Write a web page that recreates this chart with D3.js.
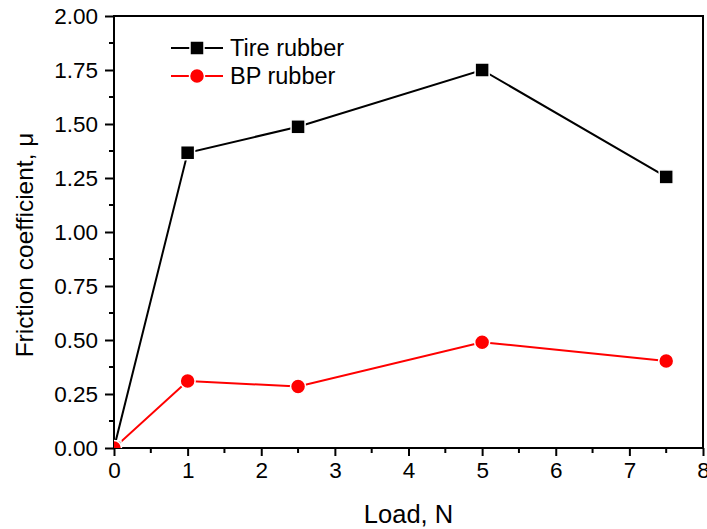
<!DOCTYPE html>
<html>
<head>
<meta charset="utf-8">
<script src="https://cdn.jsdelivr.net/npm/d3@7"></script>
<style>
  body { margin: 0; background: #fff; }
  text { font-family: Arial, "Liberation Sans", sans-serif; fill: #000; }
</style>
</head>
<body>
<svg width="707" height="529"></svg>
<script>
var loads = [0, 1, 2.5, 5, 7.5];
var tireRubber = [0, 1.367, 1.487, 1.75, 1.255];
var bpRubber = [0, 0.31, 0.285, 0.49, 0.403];
var xTicks = [0, 1, 2, 3, 4, 5, 6, 7, 8];
var yTicks = [0, 0.25, 0.5, 0.75, 1, 1.25, 1.5, 1.75, 2];

var svg = d3.select("svg"),
    margin = {top: 16, right: 4, bottom: 81, left: 114},
    width = +svg.attr("width") - margin.left - margin.right,
    height = +svg.attr("height") - margin.top - margin.bottom,
    g = svg.append("g").attr("transform", "translate(" + margin.left + "," + margin.top + ")");

var x = d3.scaleLinear().domain([0, 8]).range([0, width]);
var y = d3.scaleLinear().domain([0, 2]).range([height, 0]);

svg.append("defs").append("clipPath").attr("id", "clip")
  .append("rect").attr("width", width).attr("height", height);

// minor ticks
var xMinor = d3.range(0.5, 8, 1);
var yMinor = d3.range(0.125, 2, 0.25);

g.append("g")
    .attr("transform", "translate(0," + height + ")")
    .selectAll("line").data(xMinor).enter().append("line")
    .attr("x1", x).attr("x2", x).attr("y1", 0).attr("y2", 5)
    .attr("stroke", "#000").attr("stroke-width", 2);

g.append("g")
    .selectAll("line").data(yMinor).enter().append("line")
    .attr("y1", y).attr("y2", y).attr("x1", 0).attr("x2", -5)
    .attr("stroke", "#000").attr("stroke-width", 2);

var xAxis = g.append("g")
    .attr("transform", "translate(0," + height + ")")
    .call(d3.axisBottom(x).tickValues(xTicks).tickFormat(d3.format("d")).tickSize(8).tickPadding(6));

var yAxis = g.append("g")
    .call(d3.axisLeft(y).tickValues(yTicks).tickFormat(d3.format(".2f")).tickSize(9).tickPadding(7));

[xAxis, yAxis].forEach(function(a) {
  a.select(".domain").remove();
  a.selectAll("line").attr("stroke-width", 2);
  a.selectAll("text").style("font-size", "22.5px").style("font-family", "Arial, 'Liberation Sans', sans-serif");
});

// frame
g.append("rect")
    .attr("width", width).attr("height", height)
    .attr("fill", "none").attr("stroke", "#000").attr("stroke-width", 2);

var series = [
  {name: "Tire rubber", values: tireRubber, color: "#000", shape: "square"},
  {name: "BP rubber", values: bpRubber, color: "#ff0000", shape: "circle"}
];

var line = d3.line()
    .x(function(d) { return x(d[0]); })
    .y(function(d) { return y(d[1]); });

var plot = g.append("g").attr("clip-path", "url(#clip)");

function marker(sel, s) {
  if (s.shape === "square") {
    sel.append("rect")
      .attr("x", -7).attr("y", -7).attr("width", 14).attr("height", 14)
      .attr("fill", s.color).attr("stroke", "#fff").attr("stroke-width", 1.5);
  } else {
    sel.append("circle")
      .attr("r", 7.5)
      .attr("fill", s.color).attr("stroke", "#fff").attr("stroke-width", 1.5);
  }
}

series.forEach(function(s) {
  var pts = loads.map(function(l, i) { return [l, s.values[i]]; });
  plot.append("path")
      .datum(pts)
      .attr("fill", "none")
      .attr("stroke", s.color)
      .attr("stroke-width", 2)
      .attr("d", line);
});

series.forEach(function(s) {
  var pts = loads.map(function(l, i) { return [l, s.values[i]]; });
  plot.selectAll(null).data(pts).enter().append("g")
      .attr("transform", function(d) { return "translate(" + x(d[0]) + "," + y(d[1]) + ")"; })
      .each(function() { marker(d3.select(this), s); });
});

// legend
var legend = svg.append("g").attr("transform", "translate(171,48)");
series.forEach(function(s, i) {
  var row = legend.append("g").attr("transform", "translate(0," + (i * 28) + ")");
  row.append("line").attr("x1", 0).attr("x2", 52).attr("y1", 0).attr("y2", 0)
      .attr("stroke", s.color).attr("stroke-width", 2);
  var m = row.append("g").attr("transform", "translate(26,0)");
  marker(m, s);
  row.append("text").attr("x", 59).attr("y", 8)
      .style("font-size", "23.5px").text(s.name);
});

// axis labels
svg.append("text")
    .attr("x", margin.left + width / 2).attr("y", 523)
    .attr("text-anchor", "middle")
    .style("font-size", "25.5px")
    .text("Load, N");

svg.append("text")
    .attr("transform", "translate(33,245) rotate(-90)")
    .attr("text-anchor", "middle")
    .style("font-size", "24.5px")
    .text("Friction coefficient, μ");
</script>
</body>
</html>
